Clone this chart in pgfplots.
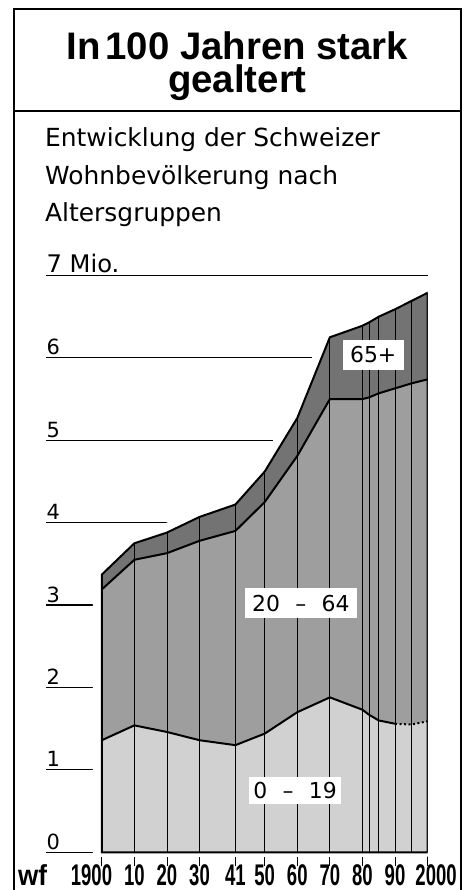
\documentclass[border=0pt]{standalone}
\usepackage{pgfplots}
\pgfplotsset{compat=1.18}
\usepackage{pgfplotstable}
\usepackage{fontspec}
\setmainfont{DejaVu Sans}
\newfontfamily\titlefont{Liberation Sans}
\newfontfamily\condfont[FakeStretch=0.62]{Liberation Sans}
\newfontfamily\wffont[FakeStretch=0.9]{Liberation Sans}

% Wohnbevoelkerung in Mio., nach Altersgruppen (0-19, 20-64, 65+)
\pgfplotstableread{
year young adult old
1900 1.36 1.83 0.18
1910 1.54 2.01 0.20
1920 1.46 2.17 0.25
1930 1.36 2.42 0.29
1941 1.30 2.60 0.32
1950 1.44 2.81 0.37
1960 1.70 3.11 0.46
1970 1.88 3.62 0.75
1980 1.73 3.77 0.89
1982 1.67 3.85 0.91
1985 1.60 3.97 0.93
1990 1.56 4.07 0.96
1995 1.55 4.14 1.00
2000 1.59 4.15 1.05
}\popdata

\begin{document}
\begin{tikzpicture}
\useasboundingbox (0,0) rectangle (471bp,890bp);
\draw[line width=1.5pt] (14bp,-5bp) rectangle (461bp,881bp);
\draw[line width=1.5pt] (14bp,779bp) -- (461bp,779bp);
\node[anchor=north, inner sep=0pt, align=center, font=\titlefont\bfseries\fontsize{38.5}{33.5}\selectfont] at (237.5bp,858.5bp) {In\hspace{0.12em}100 Jahren stark\\gealtert};
\node[anchor=base west, inner sep=0pt, font=\fontsize{25}{25}\selectfont] at (45bp,743bp) {Entwicklung der Schweizer};
\node[anchor=base west, inner sep=0pt, font=\fontsize{25}{25}\selectfont] at (45bp,705bp) {Wohnbevölkerung nach};
\node[anchor=base west, inner sep=0pt, font=\fontsize{25}{25}\selectfont] at (45bp,668bp) {Altersgruppen};
\node[anchor=base west, inner sep=0pt, font=\wffont\bfseries\fontsize{29}{29}\selectfont] at (18bp,5bp) {wf};

\begin{axis}[
    at={(46.4bp,33.6bp)}, anchor=south west,
    scale only axis, width=381.2bp, height=580.9bp,
    xmin=1883, xmax=2000, ymin=-0.05, ymax=7,
    axis line style={draw=none},
    tick align=outside, major tick length=10bp,
    xtick pos=left, ytick pos=left,
    xtick={1900,1910,1920,1930,1941,1950,1960,1970,1980,1990,2000},
    xticklabels={\llap{19}00,10,20,30,41,50,60,70,80,90,\hspace*{17bp}2000},
    xtick style={black, line width=0.8pt},
    xticklabel style={font=\condfont\bfseries\fontsize{30}{30}\selectfont, anchor=north, inner sep=0pt, yshift=2bp},
    ytick={0,1,2,3,4,5,6,7},
    yticklabels={0,1,2,3,4,5,6,{\fontsize{24.3}{24.3}\selectfont 7 Mio.}},
    ytick style={draw=none},
    yticklabel style={font=\fontsize{21}{21}\selectfont, anchor=base west, inner sep=0pt, xshift=10bp, yshift=3bp},
    ymajorgrids,
    major grid style={black, line width=1.2pt},
]
% weisser Rand, damit die Gitterlinien vor der Flaeche enden
\addplot[draw=white, line width=18bp, fill=white] table[x=year, y expr=\thisrow{young}+\thisrow{adult}+\thisrow{old}] {\popdata} \closedcycle;
\addplot[draw=none, fill=black!55] table[x=year, y expr=\thisrow{young}+\thisrow{adult}+\thisrow{old}] {\popdata} \closedcycle;
\addplot[draw=none, fill=black!38] table[x=year, y expr=\thisrow{young}+\thisrow{adult}] {\popdata} \closedcycle;
\addplot[draw=none, fill=black!18] table[x=year, y=young] {\popdata} \closedcycle;
% Linien
\addplot[black, line width=2pt, fill=none] table[x=year, y expr=\thisrow{young}+\thisrow{adult}+\thisrow{old}] {\popdata} \closedcycle;
\addplot[black, line width=2pt] table[x=year, y expr=\thisrow{young}+\thisrow{adult}] {\popdata};
\addplot[black, line width=2pt, restrict x to domain=1900:1990] table[x=year, y=young] {\popdata};
\addplot[black, line width=2pt, dash pattern=on 2bp off 2.5bp, restrict x to domain=1990:2000] table[x=year, y=young] {\popdata};
\addplot[ycomb, black, line width=0.8pt] table[x=year, y expr=\thisrow{young}+\thisrow{adult}+\thisrow{old}] {\popdata};
% Beschriftungen
\node[fill=white, inner sep=0pt, minimum width=61bp, minimum height=30bp, font=\fontsize{22}{22}\selectfont] at (axis cs:1983.3,6.035) {65+};
\node[fill=white, inner sep=0pt, minimum width=112bp, minimum height=30bp, font=\fontsize{22}{22}\selectfont] at (axis cs:1961.1,3.025) {20\hspace{0.7em}–\hspace{0.7em}64};
\node[fill=white, inner sep=0pt, minimum width=92bp, minimum height=27bp, font=\fontsize{22}{22}\selectfont] at (axis cs:1959.3,0.75) {0\hspace{0.7em}–\hspace{0.7em}19};
\end{axis}
\end{tikzpicture}
\end{document}
